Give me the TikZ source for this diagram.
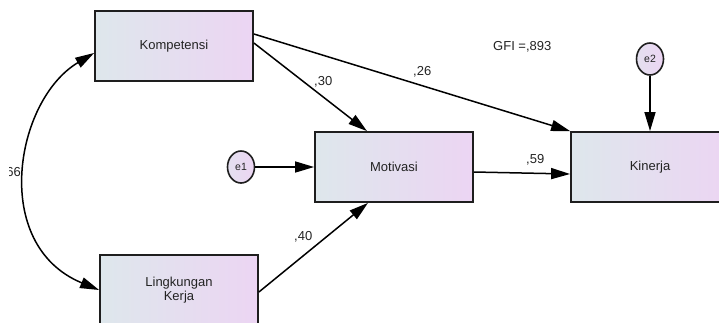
\documentclass[tikz,border=0pt]{standalone}
\usepackage{fontspec}
\setmainfont{Liberation Sans}
\usetikzlibrary{arrows.meta,shapes.geometric}
\definecolor{boxL}{RGB}{222,231,236}
\definecolor{boxR}{RGB}{236,213,243}
\definecolor{edgec}{RGB}{30,30,30}
\definecolor{txt}{RGB}{35,35,35}
\begin{document}
\begin{tikzpicture}[x=1pt,y=-1pt,
  font=\fontsize{13}{14.5}\selectfont,
  varbox/.style={draw=edgec,line width=1.8pt,left color=boxL,right color=boxR,
    minimum width=158pt,minimum height=70pt,inner sep=0pt,text=txt,align=center},
  errc/.style={draw=edgec,line width=1.6pt,ellipse,left color=boxL!60!boxR,right color=boxR,
    minimum width=27pt,minimum height=32pt,inner sep=0pt,text=txt,font=\fontsize{10.5}{12}\selectfont},
  pathar/.style={draw=black,line width=1.5pt,-{Triangle[length=19pt,width=11pt]}},
  coef/.style={text=txt,inner sep=0pt,anchor=west}
]
\useasboundingbox (0,0) rectangle (719,322);
\node[varbox] (kom) at (174,46) {Kompetensi};
\node[varbox] (mot) at (394,167) {Motivasi};
\node[varbox] (kin) at (650,167) {Kinerja};
\node[varbox] (lin) at (179,290) {Lingkungan\\Kerja};
\node[errc] (e1) at (241,167) {e1};
\node[errc] (e2) at (650,59) {e2};

\draw[pathar] ([yshift=12pt]kom.east) -- (kin.north west);
\draw[pathar] ([yshift=3pt]kom.east) -- ([xshift=-27pt]mot.north);
\draw[pathar] ([yshift=-2pt]lin.east) -- ([xshift=-26pt]mot.south);
\draw[pathar] ([yshift=-5pt]mot.east) -- ([yshift=-7pt]kin.west);
\draw[pathar] (e1.east) -- (mot.west);
\draw[pathar] (e2.south) -- (kin.north);
\draw[draw=black,line width=1.5pt,{Triangle[length=19pt,width=11pt]}-{Triangle[length=19pt,width=11pt]}]
  ([yshift=-7pt]kom.west) .. controls (15,100) and (-10,245) .. (lin.west);

\node[coef] (c30) at (314,82) {,30};
\node[coef] (c26) at (413,72) {,26};
\node[coef] (c59) at (526,160) {,59};
\node[coef] (c40) at (294,237) {,40};
\node[coef] (gfi) at (493,47) {GFI =,893};
\begin{scope}
\clip (9,150) rectangle (40,195);
\node[coef,anchor=east] (c66) at (21,173) {,66};
\end{scope}
\end{tikzpicture}
\end{document}
